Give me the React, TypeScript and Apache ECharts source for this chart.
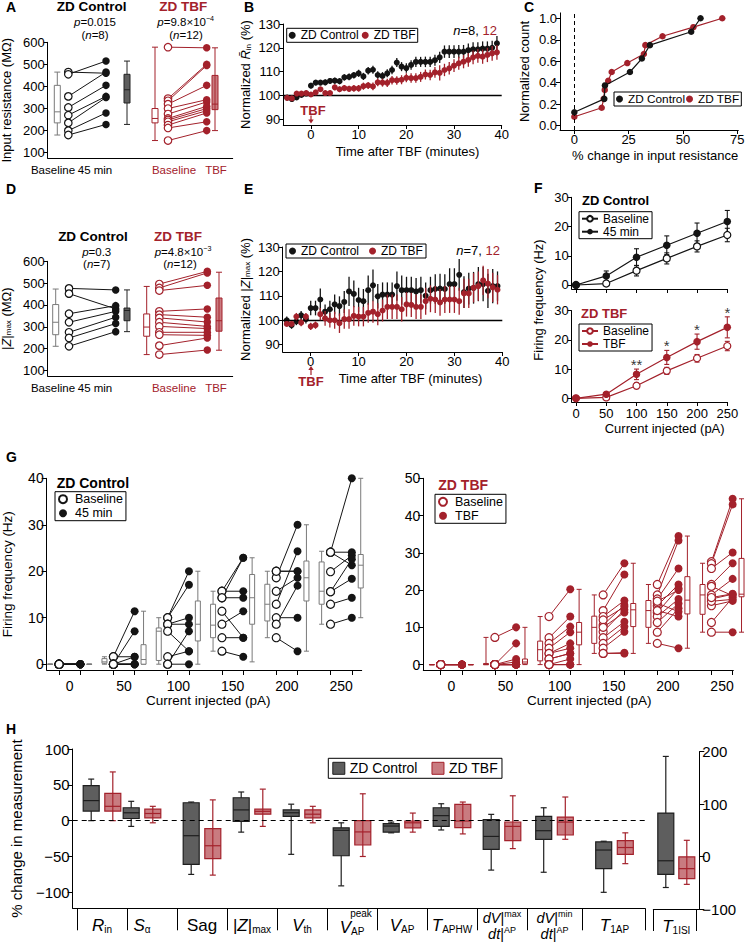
import React, { useEffect, useRef } from "react";
import * as echarts from "echarts";

const RED = "#a3212b";
const RED_FILL = "rgba(168,42,50,0.62)";
const DARK_FILL = "#5e5e5e";
const CTRL = "#141414";
const BOX_GRAY = "#7a7a7a";
const FONT = "'Liberation Sans', Arial, Helvetica, sans-serif";

// ---------- Panel A : input resistance (MΩ) ----------
const A_CTRL_BASE = [465, 455, 355, 305, 270, 235, 200, 180];
const A_CTRL_POST = [460, 515, 465, 405, 355, 350, 280, 228];
const A_TBF_BASE = [578, 345, 335, 320, 300, 275, 255, 248, 240, 225, 212, 155];
const A_TBF_POST = [575, 500, 495, 405, 340, 330, 310, 300, 290, 280, 240, 200];
const A_BOX_CTRL_BASE = [180, 235, 285, 405, 465];
const A_BOX_CTRL_POST = [228, 325, 385, 455, 515];
const A_BOX_TBF_BASE = [155, 235, 255, 300, 578];
const A_BOX_TBF_POST = [200, 295, 320, 450, 575];
const MOHM_TICKS = [100, 200, 300, 400, 500, 600];
const PAIR_LABELS = ["Baseline", "45 min", "Baseline", "TBF"];

// ---------- Panel D : |Z|max (MΩ) ----------
const D_CTRL_BASE = [476, 452, 360, 321, 275, 249, 211];
const D_CTRL_POST = [469, 382, 397, 371, 344, 315, 278];
const D_TBF_BASE = [496, 478, 466, 371, 356, 341, 321, 302, 275, 264, 214, 173];
const D_TBF_POST = [554, 547, 490, 382, 344, 322, 302, 292, 275, 261, 249, 194];
const D_BOX_CTRL_BASE = [211, 264, 321, 402, 473];
const D_BOX_CTRL_POST = [278, 328, 375, 386, 469];
const D_BOX_TBF_BASE = [173, 257, 299, 359, 485];
const D_BOX_TBF_POST = [193, 280, 328, 432, 550];

// ---------- Panels B & E : time courses ----------
const T_MIN = [-5, -4, -3, -2, -1, 0, 1, 2, 3, 4, 5, 6, 7, 8, 9, 10, 11, 12, 13, 14, 15, 16, 17, 18, 19, 20, 21, 22, 23, 24, 25, 26, 27, 28, 29, 30, 31, 32, 33, 34, 35, 36, 37, 38, 39];
const TIME_TICKS = [0, 10, 20, 30, 40];
const NORM_TICKS = [90, 100, 110, 120, 130];
const B_CTRL = [99.1, 98.5, 99.2, 100.2, 100.8, 104.1, 105.4, 105.4, 105.5, 106.1, 106.2, 106, 107.6, 107.8, 108.5, 109.3, 108, 110.4, 110.8, 108.6, 108.2, 109.3, 110.7, 113.8, 112.1, 111.5, 112.8, 114.1, 114.1, 114.1, 114.1, 114.8, 116, 118.4, 118.4, 118.4, 118.4, 118.4, 119, 119.4, 119.4, 119.7, 119.7, 120, 121.9];
const B_CTRL_ERR = [0.6, 0.6, 0.7, 0.7, 0.8, 1.2, 1.1, 1.1, 1.2, 1.2, 1.3, 1.3, 1.3, 1.4, 1.4, 1.5, 1.5, 1.6, 1.7, 1.6, 1.6, 1.7, 1.8, 1.9, 1.9, 2, 2, 2.1, 2.1, 2.2, 2.2, 2.3, 2.4, 2.6, 2.7, 2.7, 2.8, 2.8, 2.8, 2.9, 2.9, 3, 3, 3, 3.1];
const B_TBF = [99, 98.8, 100.8, 100.8, 101, 100.4, 101.3, 102.6, 101, 101, 103.4, 102.6, 103.1, 102.8, 103, 103, 103.9, 104.2, 103.8, 105.5, 105.4, 105.3, 106.4, 106.3, 106.6, 107.4, 107.3, 107.3, 107.8, 108.8, 108.6, 109.7, 109.5, 110.7, 111.4, 112.5, 113.5, 114.2, 114.9, 116, 116.6, 116.3, 117, 117.7, 118.1];
const B_TBF_ERR = [0.6, 0.7, 0.8, 0.8, 0.8, 0.9, 1, 1, 1.1, 1.1, 1.2, 1.2, 1.3, 1.3, 1.4, 1.4, 1.5, 1.5, 1.6, 1.6, 1.7, 1.7, 1.8, 1.8, 1.9, 1.9, 2, 2, 2.1, 2.1, 2.2, 2.3, 3.2, 2.6, 2.6, 2.7, 2.7, 2.8, 2.8, 2.9, 2.9, 3, 3, 3.1, 3.1];
const E_CTRL = [100, 98, 99.5, 102, 100.5, 105, 105, 108.5, 103.5, 104.5, 106.5, 105.8, 107.5, 111.8, 110.8, 108.3, 107.8, 112.3, 114.3, 109.8, 110.5, 110.5, 110.5, 114, 112.3, 112.3, 112.3, 111.8, 112.3, 110, 112.3, 112.8, 113, 112.8, 114.8, 114.8, 118.6, 111.5, 113, 113.3, 114.8, 114.8, 112, 114, 114];
const E_CTRL_ERR = [1.5, 1.5, 1.5, 1.8, 1.8, 3, 3, 4.5, 3, 3.5, 4, 4, 4.5, 6, 5.5, 5, 5, 6, 6.5, 5, 5, 5, 5, 6, 6, 5.5, 5.5, 5.5, 5.5, 5.5, 5.5, 6, 6, 6, 6.5, 6.5, 6.5, 6.5, 6.5, 6.5, 7, 7, 7, 7, 6];
const E_TBF = [98.5, 98.5, 101.5, 99, 101.5, 97.5, 98, 102.5, 100.8, 100, 100, 98.8, 100.5, 100.5, 101.8, 101.5, 101.5, 103, 103.5, 102.5, 104, 105.5, 105.5, 105.5, 104.5, 106.5, 106.3, 105.5, 105.5, 107.8, 108.8, 108.5, 107.3, 108.5, 108.5, 108.5, 107.8, 111, 111, 113.3, 114, 116.3, 115, 113.5, 112.5];
const E_TBF_ERR = [1, 1, 1.5, 1.5, 1.5, 1.5, 1.5, 2.5, 3, 3, 3.5, 4, 4, 4, 4, 4, 4, 4, 4.5, 4.5, 4.5, 5, 5, 5, 5, 5, 5, 5, 5, 5.5, 5.5, 5.5, 5.5, 5.5, 5.5, 5.5, 5.5, 6, 6, 6, 6, 6, 6, 6, 6];

// ---------- Panel C : cumulative distribution ----------
const C_CTRL_X = [0, 13.8, 14.1, 25.6, 31.1, 34.8, 53.8, 58.1];
const C_CTRL_Y = [0.125, 0.25, 0.375, 0.5, 0.625, 0.75, 0.875, 1.0];
const C_TBF_X = [0, 12.6, 13.5, 14, 15.6, 17.2, 24.4, 32, 32.7, 40.6, 54.8, 68.1];
const C_TBF_Y = [0.083, 0.167, 0.25, 0.333, 0.417, 0.5, 0.583, 0.667, 0.75, 0.833, 0.917, 1.0];
const C_X_TICKS = [0, 25, 50, 75];
const C_Y_TICKS = [0, 0.2, 0.4, 0.6, 0.8, 1.0];

// ---------- Panel F : F-I curves (mean ± SEM) ----------
const F_I = [0, 50, 100, 150, 200, 250];
const F_CTRL_BASE = [0, 0.5, 4.9, 9.1, 13.2, 17.1];
const F_CTRL_BASE_ERR = [0, 0.5, 1.8, 1.9, 1.9, 2.3];
const F_CTRL_POST = [0, 3.1, 9.5, 13.6, 17.7, 21.7];
const F_CTRL_POST_ERR = [0, 1.7, 2.9, 3.2, 3.5, 3.8];
const F_TBF_BASE = [0, 0.3, 4.3, 9.4, 13.7, 17.9];
const F_TBF_BASE_ERR = [0, 0.3, 1, 1.2, 1.3, 1.6];
const F_TBF_POST = [0, 1.4, 8.2, 14, 19.4, 24.3];
const F_TBF_POST_ERR = [0, 0.6, 1.8, 2.4, 2.6, 3.6];
const F_SIG = ["", "", "**", "*", "*", "*"];
const F_Y_TICKS = [0, 10, 20, 30];

// ---------- Panel G : individual F-I ----------
const G_CURRENTS = [0, 50, 100, 150, 200, 250];
const G_CTRL_BASE = [
  [0, 0, 0, 0, 0, 0, 0, 0],
  [1.6, 0, 1.6, 0, 0, 0, 0, 0],
  [10, 10, 8.6, 8.6, 7.1, 1.6, 0, 0],
  [15.7, 14.3, 15.7, 14.3, 11.4, 8.6, 5.7, 2.8],
  [20, 18.6, 15.7, 12.9, 10, 8.6, 5.7, 20],
  [24.1, 24.1, 24.1, 19.9, 15.6, 15.6, 12.9, 8.6],
];
const G_CTRL_POST = [
  [0, 0, 0, 0, 0, 0, 0, 0],
  [11.4, 7.1, 1.6, 0, 1.6, 0, 0, 0],
  [20, 17.1, 10, 8.6, 2.8, 2.8, 7.1, 0],
  [22.9, 22.9, 15.7, 14.3, 5.7, 11.4, 5.7, 1.6],
  [20, 30, 18.6, 24.3, 10, 16.9, 2.8, 20],
  [40, 24.1, 21.3, 23.4, 18.4, 22.6, 14.3, 10],
];
const G_CTRL_BOX_BASE = [[0, 0, 0, 0, 0], [0, 0.2, 0.5, 1.2, 1.6], [0, 0.8, 7.1, 7.8, 10], [2.8, 5.7, 8.4, 12.9, 15.7], [5.7, 9.3, 12.9, 17.2, 20], [8.6, 12.9, 15.7, 22, 24.3]];
const G_CTRL_BOX_POST = [[0, 0, 0, 0, 0], [0, 0, 1, 4.2, 11.4], [0, 5, 8.6, 13.6, 20], [0.5, 8.6, 14.3, 19.3, 22.9], [2.8, 13.6, 18.6, 22.2, 30], [10, 16.4, 21.3, 23.6, 40]];
const G_TBF_BASE = [
  [0, 0, 0, 0, 0, 0, 0, 0, 0, 0, 0, 0],
  [7.3, 0, 0, 0, 0, 0, 0, 0, 0, 0, 0, 0],
  [12.9, 7.2, 5.7, 4.4, 3, 3, 1.5, 1.5, 0, 0, 0, 0],
  [18.7, 14.5, 12.9, 10.6, 8.8, 7.2, 5.7, 4.4, 12, 10, 3, 3],
  [21.5, 18.7, 17.6, 15.8, 14, 12.9, 11.3, 8.7, 5.7, 16.5, 14.5, 17],
  [27.6, 27.1, 25.8, 21.5, 18.7, 17.6, 15.8, 11.3, 8.7, 21, 17, 18],
];
const G_TBF_POST = [
  [0, 0, 0, 0, 0, 0, 0, 0, 0, 0, 0, 0],
  [10, 5.7, 1.5, 0.7, 0, 0, 0, 0, 0, 0, 0, 0],
  [20.2, 12.9, 10.2, 8.7, 5.7, 4.4, 3, 3, 1.5, 0, 0, 0],
  [27.2, 24.2, 17.2, 16, 14.7, 11.5, 10.2, 8.8, 15.5, 14, 3.2, 3],
  [34.5, 33.3, 25.8, 21.5, 20.5, 17.6, 16.4, 15.1, 4.4, 14.2, 12.9, 20],
  [44.5, 43, 30.1, 27.2, 23, 18.9, 17.1, 18, 8.7, 18.5, 17.5, 19],
];
const G_TBF_BOX_BASE = [[0, 0, 0, 0, 0], [0, 0, 0, 0.3, 7.3], [0, 1, 4, 6.3, 12.9], [3, 5.7, 10, 13, 18.7], [5.7, 10, 14.5, 17.2, 21.5], [8.7, 13.5, 18.7, 21.5, 27.2]];
const G_TBF_BOX_POST = [[0, 0, 0, 0, 0], [0, 0.2, 0.7, 1.5, 10], [0, 5.3, 8.7, 11.3, 20.2], [3, 10.2, 14.7, 16.4, 27.2], [4.4, 13.6, 17.3, 23.6, 34.5], [8.7, 18.2, 18.9, 28.5, 44.5]];
const G_L_TICKS = [0, 10, 20, 30, 40];
const G_R_TICKS = [0, 10, 20, 30, 40, 50];

// ---------- Panel H : % change per measurement [min, q1, median, q3, max] ----------
const H_LABELS = [
  "{e| }\n{it|R}{sub|in}",
  "{e| }\n{it|S}{sub|α}",
  "{e| }\n{rm|Sag}",
  "{e| }\n{rm||}{it|Z}{rm||}{sub|max}",
  "{e| }\n{it|V}{sub|th}",
  "{pk|peak}\n{it|V}{sub|AP}",
  "{e| }\n{it|V}{sub|AP}",
  "{e| }\n{it|T}{sub|APHW}",
  "{fi|dV}{fr||}{fs|max}\n{fi|dt}{fr||}{fs|AP}",
  "{fi|dV}{fr||}{fs|min}\n{fi|dt}{fr||}{fs|AP}",
  "{e| }\n{it|T}{sub|1AP}",
];
const H_CTRL = [
  [0, 13.4, 28, 49, 58],
  [-8, 3, 11, 18, 27],
  [-75, -61, -21, 25, 26],
  [-16, -1, 15, 32, 40],
  [-47, 6, 11, 15, 23],
  [-91, -49, -13.5, -10, -3],
  [-17, -16, -7.5, -4, -2],
  [-13, -8, 7, 18, 23.6],
  [-69, -40, -22, 1.4, 8.8],
  [-72, -26, -14, 6, 18],
  [-100, -67, -41, -29.6, -28.7],
];
const H_TBF = [
  [0, 13.4, 20, 38, 68],
  [-3, 4, 10, 16, 20],
  [-76, -53, -35, -11, 29],
  [-8, 9, 13, 16, 44],
  [-3, 4, 9, 15, 20],
  [-50, -34, -15.7, 0, 37.5],
  [-16, -10, -3, -0.5, 10.6],
  [-18.5, -9.7, -0.5, 22.7, 26],
  [-39, -28, -8, -1.9, 34.7],
  [-26, -20, -2, 5, 33],
  [-60, -47, -37.5, -28, -17],
];
const H_ISI_LABEL = "{e| }\n{it|T}{sub|1ISI}";
const H_ISI_CTRL = [-59, -34, -8, 83, 191];
const H_ISI_TBF = [-53, -42, -23, -0.6, 31];
const H_L_TICKS = [-100, -50, 0, 50, 100];
const H_R_TICKS = [-100, 0, 100, 200];

// ---------- layout (pixel / slot positions, not data) ----------
const A_X = { b0: 9.6, p0: 20.6, p1: 58.3, b1: 79.3, b2: 107.3, p2: 120.3, p3: 159, b3: 167.3 };
const D_X = { b0: 8, p0: 21.3, p1: 68, b1: 79.3, b2: 99, p2: 111.6, p3: 159.6, b3: 171.3 };
const PAIR_LABEL_X = [53, 95, 174, 216];
const G_OFF = 9.8;
const G_BOX_OFF = 18;
const H_POS = [0, 0.8, 2, 3, 4, 5, 6, 7, 8, 9.05, 10.25];
const H_SEP = [-0.5, 0.5, 1.5, 2.5, 3.5, 4.5, 5.5, 6.5, 7.5, 8.5, 9.6, 10.86];

const fmtNum = (v: number) => String(v).replace("-", "\u2212");

function nearestIdx(arr: number[], v: number) {
  let b = 0;
  arr.forEach((a, i) => {
    if (Math.abs(a - v) < Math.abs(arr[b] - v)) b = i;
  });
  return b;
}

function axis(min: number, max: number, ticks: number[], labels: number[] | null, o: any = {}) {
  const fs = o.fs ?? 13;
  return {
    type: "value",
    min,
    max,
    position: o.position,
    offset: o.offset ?? 0,
    axisLine: { show: o.line ?? true, onZero: false, lineStyle: { color: "#000", width: 1 } },
    axisTick: {
      show: ticks.length > 0,
      length: o.tickLen ?? 4,
      inside: false,
      customValues: ticks,
      lineStyle: { color: "#000", width: 1 },
    },
    axisLabel: {
      show: !!labels,
      customValues: labels ?? [],
      margin: o.margin ?? 3,
      color: "#000",
      fontSize: fs,
      fontFamily: FONT,
      formatter: o.formatter ?? ((v: number) => fmtNum(v)),
      rich: o.rich,
      hideOverlap: false,
      showMinLabel: true,
      showMaxLabel: true,
    },
    splitLine: { show: false },
    name: o.name,
    nameLocation: "middle",
    nameGap: o.nameGap,
    nameTextStyle: { color: "#000", fontSize: o.nfs ?? fs, fontFamily: FONT, rich: o.nrich, padding: o.namePad },
  };
}

function boxSeries(ai: number, rows: number[][], o: any) {
  return {
    type: "custom",
    name: o.name,
    xAxisIndex: ai,
    yAxisIndex: ai,
    silent: true,
    z: o.z ?? 3,
    data: rows,
    renderItem: (_p: any, api: any) => {
      const x = api.value(0);
      const pt = (v: number) => api.coord([x, v]);
      const base = pt(api.value(1));
      const cx = base[0] + (o.dx || 0);
      const yMin = base[1];
      const yQ1 = pt(api.value(2))[1];
      const yMed = pt(api.value(3))[1];
      const yQ3 = pt(api.value(4))[1];
      const yMax = pt(api.value(5))[1];
      const hw = o.w / 2;
      const cap = (o.cap ?? o.w) / 2;
      const lw = o.lw ?? 1;
      const ws = { stroke: o.whisker ?? o.stroke, lineWidth: lw };
      return {
        type: "group",
        children: [
          { type: "line", shape: { x1: cx, y1: yMin, x2: cx, y2: yMax }, style: ws },
          { type: "line", shape: { x1: cx - cap, y1: yMin, x2: cx + cap, y2: yMin }, style: ws },
          { type: "line", shape: { x1: cx - cap, y1: yMax, x2: cx + cap, y2: yMax }, style: ws },
          {
            type: "rect",
            shape: { x: cx - hw, y: yQ3, width: o.w, height: Math.max(yQ1 - yQ3, 0.3) },
            style: { fill: o.fill, stroke: o.stroke, lineWidth: lw },
          },
          { type: "line", shape: { x1: cx - hw, y1: yMed, x2: cx + hw, y2: yMed }, style: { stroke: o.median ?? o.stroke, lineWidth: lw } },
        ],
      };
    },
  };
}

function pairSeries(ai: number, rows: number[][], color: string, lw = 1, z = 2) {
  return {
    type: "custom",
    xAxisIndex: ai,
    yAxisIndex: ai,
    silent: true,
    z,
    data: rows,
    renderItem: (_p: any, api: any) => {
      const a = api.coord([api.value(0), api.value(1)]);
      const b = api.coord([api.value(2), api.value(3)]);
      return { type: "line", shape: { x1: a[0], y1: a[1], x2: b[0], y2: b[1] }, style: { stroke: color, lineWidth: lw } };
    },
  };
}

function errSeries(ai: number, rows: number[][], color: string, lw: number, cap: number, z = 3) {
  return {
    type: "custom",
    xAxisIndex: ai,
    yAxisIndex: ai,
    silent: true,
    z,
    data: rows,
    renderItem: (_p: any, api: any) => {
      const x = api.value(0);
      const y = api.value(1);
      const e = api.value(2);
      const a = api.coord([x, y - e]);
      const b = api.coord([x, y + e]);
      const st = { stroke: color, lineWidth: lw };
      const ch: any[] = [{ type: "line", shape: { x1: a[0], y1: a[1], x2: b[0], y2: b[1] }, style: st }];
      if (cap > 0 && e > 0) {
        ch.push({ type: "line", shape: { x1: a[0] - cap / 2, y1: a[1], x2: a[0] + cap / 2, y2: a[1] }, style: st });
        ch.push({ type: "line", shape: { x1: b[0] - cap / 2, y1: b[1], x2: b[0] + cap / 2, y2: b[1] }, style: st });
      }
      return { type: "group", children: ch };
    },
  };
}

function dotSeries(ai: number, pts: number[][], color: string, size: number, hollow: boolean, name?: string, z = 6) {
  return {
    type: "scatter",
    name,
    xAxisIndex: ai,
    yAxisIndex: ai,
    silent: true,
    z,
    data: pts,
    symbol: "circle",
    symbolSize: size,
    itemStyle: hollow
      ? { color: "#fff", borderColor: color, borderWidth: 1.2, opacity: 1 }
      : { color, borderWidth: 0, opacity: 1 },
  };
}

const legendBase = (o: any) => ({
  selectedMode: false,
  borderColor: "#000",
  borderWidth: 1,
  backgroundColor: "#fff",
  formatter: (n: string) => n.split(":")[1],
  textStyle: { fontSize: o.fs ?? 12, fontFamily: FONT, color: "#000", lineHeight: o.lh ?? 12 },
  ...o,
});

function buildOption() {
  const grid: any[] = [];
  const xAxis: any[] = [];
  const yAxis: any[] = [];
  const series: any[] = [];
  const legend: any[] = [];
  const graphic: any[] = [];

  const add = (g: any, xa: any, ya: any) => {
    const i = grid.length;
    grid.push({ ...g, containLabel: false, outerBoundsMode: "none", show: false });
    xAxis.push({ ...xa, gridIndex: i });
    yAxis.push({ ...ya, gridIndex: i });
    return i;
  };

  const richFor = (fs: number) => ({
    i: { fontStyle: "italic", fontSize: fs, fontFamily: FONT, fill: "#000", color: "#000" },
    s: { fontSize: fs * 0.62, fontFamily: FONT, fill: "#000", color: "#000", verticalAlign: "top", lineHeight: fs * 0.62 },
    b: { fontSize: fs * 0.6, fontFamily: FONT, fill: "#000", color: "#000", verticalAlign: "bottom", lineHeight: fs * 0.6 },
    r: { fontSize: fs, fontFamily: FONT, fill: RED, color: RED },
    n: { fontSize: fs, fontFamily: FONT, fill: "#000", color: "#000" },
  });

  const txt = (x: number, y: number, text: string, o: any = {}) => {
    const fs = o.fs ?? 12;
    graphic.push({
      type: "text",
      x,
      y,
      silent: true,
      z: 100,
      rotation: o.rot ?? 0,
      style: {
        text,
        fill: o.fill ?? "#000",
        fontFamily: FONT,
        fontSize: fs,
        fontWeight: o.bold ? "bold" : "normal",
        fontStyle: o.italic ? "italic" : "normal",
        textAlign: o.align ?? "center",
        textVerticalAlign: o.va ?? "middle",
        align: o.align ?? "center",
        verticalAlign: o.va ?? "middle",
        rich: o.rich ?? richFor(fs),
      },
    });
  };

  // ----- paired panels A and D -----
  const paired = (ai: number, X: any, cb: number[], cp: number[], tb: number[], tp: number[], boxes: number[][]) => {
    series.push(pairSeries(ai, cb.map((v, i) => [X.p0, v, X.p1, cp[i]]), CTRL, 1));
    series.push(pairSeries(ai, tb.map((v, i) => [X.p2, v, X.p3, tp[i]]), RED, 1));
    series.push(boxSeries(ai, [[X.b0, ...boxes[0]]], { w: 6, fill: "#fff", stroke: BOX_GRAY }));
    series.push(boxSeries(ai, [[X.b1, ...boxes[1]]], { w: 6, fill: DARK_FILL, stroke: "#222" }));
    series.push(boxSeries(ai, [[X.b2, ...boxes[2]]], { w: 6, fill: "#fff", stroke: RED }));
    series.push(boxSeries(ai, [[X.b3, ...boxes[3]]], { w: 6, fill: RED_FILL, stroke: RED }));
    series.push(dotSeries(ai, cb.map((v) => [X.p0, v]), CTRL, 7.5, true));
    series.push(dotSeries(ai, cp.map((v) => [X.p1, v]), CTRL, 7.5, false));
    series.push(dotSeries(ai, tb.map((v) => [X.p2, v]), RED, 7.5, true));
    series.push(dotSeries(ai, tp.map((v) => [X.p3, v]), RED, 7.5, false));
  };
  const pairLabels = (y: number) =>
    PAIR_LABELS.forEach((t, k) => txt(PAIR_LABEL_X[k], y, t, { fs: 11.5, fill: k >= 2 ? RED : "#000" }));

  const aI = add(
    { left: 47.7, top: 42.3, width: 185, height: 115.9 },
    axis(0, 185, [], null, {}),
    axis(75, 600, MOHM_TICKS, MOHM_TICKS, { name: "Input resistance (MΩ)", nameGap: 35 })
  );
  paired(aI, A_X, A_CTRL_BASE, A_CTRL_POST, A_TBF_BASE, A_TBF_POST, [A_BOX_CTRL_BASE, A_BOX_CTRL_POST, A_BOX_TBF_BASE, A_BOX_TBF_POST]);
  pairLabels(170);

  const dI = add(
    { left: 47.7, top: 261.3, width: 185, height: 114.7 },
    axis(0, 185, [], null, {}),
    axis(75, 600, MOHM_TICKS, MOHM_TICKS, {
      name: "|{i|Z}|{b|max} (MΩ)",
      nameGap: 35,
      nrich: {
        i: { fontStyle: "italic", fontSize: 13, fontFamily: FONT, color: "#000" },
        b: { fontSize: 8, fontFamily: FONT, color: "#000", verticalAlign: "bottom", lineHeight: 8 },
      },
    })
  );
  paired(dI, D_X, D_CTRL_BASE, D_CTRL_POST, D_TBF_BASE, D_TBF_POST, [D_BOX_CTRL_BASE, D_BOX_CTRL_POST, D_BOX_TBF_BASE, D_BOX_TBF_POST]);
  pairLabels(388);

  // ----- time courses B and E -----
  const normRich = {
    i: { fontStyle: "italic", fontSize: 13, fontFamily: FONT, color: "#000" },
    b: { fontSize: 8, fontFamily: FONT, color: "#000", verticalAlign: "bottom", lineHeight: 8 },
  };
  const hline100 = {
    silent: true,
    symbol: ["none", "none"],
    label: { show: false },
    lineStyle: { color: "#000", width: 1.4, type: "solid" },
    data: [{ yAxis: 100 }],
  };
  const timeCourse = (ai: number, tag: string, c: number[], ce: number[], t: number[], te: number[]) => {
    series.push(errSeries(ai, T_MIN.map((x, i) => [x, c[i], ce[i]]), CTRL, 1.3, 0, 3));
    series.push({ ...dotSeries(ai, T_MIN.map((x, i) => [x, c[i]]), CTRL, 6, false, `${tag}:ZD Control`, 4), markLine: hline100 });
    series.push(errSeries(ai, T_MIN.map((x, i) => [x, t[i], te[i]]), RED, 1.3, 0, 5));
    series.push(dotSeries(ai, T_MIN.map((x, i) => [x, t[i]]), RED, 6, false, `${tag}:ZD TBF`, 6));
  };

  const bI = add(
    { left: 283.3, top: 24, width: 218.4, height: 101 },
    axis(-5.8, 40, TIME_TICKS, TIME_TICKS, { name: "Time after TBF (minutes)", nameGap: 20, namePad: [0, 0, 0, 30] }),
    axis(87.6, 130, NORM_TICKS, NORM_TICKS, { name: "Normalized {i|R\u0304}{b|in} (%)", nameGap: 31, nrich: normRich })
  );
  timeCourse(bI, "B", B_CTRL, B_CTRL_ERR, B_TBF, B_TBF_ERR);
  legend.push(
    legendBase({
      left: 286.7,
      top: 28.3,
      data: ["B:ZD Control", "B:ZD TBF"],
      icon: "circle",
      itemWidth: 7,
      itemHeight: 7,
      itemGap: 3,
      padding: [1, 2, 1, 2],
    })
  );

  const eI = add(
    { left: 282.7, top: 247, width: 219.6, height: 105 },
    axis(-5.85, 40, TIME_TICKS, TIME_TICKS, { name: "Time after TBF (minutes)", nameGap: 20, namePad: [0, 0, 0, 36] }),
    axis(87, 130, NORM_TICKS, NORM_TICKS, { name: "Normalized |{i|Z}|{b|max} (%)", nameGap: 31, nrich: normRich })
  );
  timeCourse(eI, "E", E_CTRL, E_CTRL_ERR, E_TBF, E_TBF_ERR);
  legend.push(
    legendBase({
      left: 286,
      top: 244,
      data: ["E:ZD Control", "E:ZD TBF"],
      icon: "circle",
      itemWidth: 7,
      itemHeight: 7,
      itemGap: 10,
      padding: [1, 3, 1, 3],
    })
  );

  // ----- C cumulative -----
  const cI = add(
    { left: 560, top: 12.9, width: 178.3, height: 117.1 },
    axis(-6.6, 75.5, C_X_TICKS, C_X_TICKS, { name: "% change in input resistance", nameGap: 19, namePad: [0, 0, 0, 12] }),
    axis(-0.04, 1.05, C_Y_TICKS, C_Y_TICKS, { formatter: (v: number) => v.toFixed(1), name: "Normalized count", nameGap: 29 })
  );
  series.push({
    type: "line",
    name: "C:ZD TBF",
    xAxisIndex: cI,
    yAxisIndex: cI,
    silent: true,
    z: 4,
    data: C_TBF_X.map((x, i) => [x, C_TBF_Y[i]]),
    symbol: "circle",
    symbolSize: 6.5,
    showSymbol: true,
    lineStyle: { color: RED, width: 1.2 },
    itemStyle: { color: RED, borderWidth: 0 },
    markLine: {
      silent: true,
      symbol: ["none", "none"],
      label: { show: false },
      lineStyle: { color: "#000", width: 1, type: [4, 3] },
      data: [{ xAxis: 0 }],
    },
  });
  series.push({
    type: "line",
    name: "C:ZD Control",
    xAxisIndex: cI,
    yAxisIndex: cI,
    silent: true,
    z: 5,
    data: C_CTRL_X.map((x, i) => [x, C_CTRL_Y[i]]),
    symbol: "circle",
    symbolSize: 6.5,
    showSymbol: true,
    lineStyle: { color: CTRL, width: 1.2 },
    itemStyle: { color: CTRL, borderWidth: 0 },
  });
  legend.push(
    legendBase({
      left: 614,
      top: 92,
      data: ["C:ZD Control", "C:ZD TBF"],
      icon: "circle",
      itemWidth: 7,
      itemHeight: 7,
      itemGap: 1,
      padding: [1, 2, 1, 2],
      fs: 11.8,
    })
  );

  // ----- F curves -----
  const fCurve = (ai: number, tag: string, color: string, b: number[], be: number[], p: number[], pe: number[], postName: string) => {
    series.push(errSeries(ai, F_I.map((x, i) => [x, b[i], be[i]]), color, 1.1, 5, 3));
    series.push(errSeries(ai, F_I.map((x, i) => [x, p[i], pe[i]]), color, 1.1, 5, 3));
    series.push({
      type: "line",
      name: `${tag}:Baseline`,
      xAxisIndex: ai,
      yAxisIndex: ai,
      silent: true,
      z: 5,
      data: F_I.map((x, i) => [x, b[i]]),
      symbol: "circle",
      symbolSize: 7,
      showSymbol: true,
      lineStyle: { color, width: 1.2 },
      itemStyle: { color: "#fff", borderColor: color, borderWidth: 1.2 },
    });
    series.push({
      type: "line",
      name: `${tag}:${postName}`,
      xAxisIndex: ai,
      yAxisIndex: ai,
      silent: true,
      z: 6,
      data: F_I.map((x, i) => [x, p[i]]),
      symbol: "circle",
      symbolSize: 7.5,
      showSymbol: true,
      lineStyle: { color, width: 1.2 },
      itemStyle: { color, borderWidth: 0 },
    });
  };
  const f1 = add(
    { left: 571.7, top: 197.3, width: 155.9, height: 91.7 },
    axis(-7.1, 250.5, F_I, null, {}),
    axis(-1.37, 30, F_Y_TICKS, F_Y_TICKS, {})
  );
  fCurve(f1, "F1", CTRL, F_CTRL_BASE, F_CTRL_BASE_ERR, F_CTRL_POST, F_CTRL_POST_ERR, "45 min");
  const f2 = add(
    { left: 571.7, top: 310.7, width: 155.9, height: 91.3 },
    axis(-7.1, 250.5, F_I, F_I, { name: "Current injected (pA)", nameGap: 20, margin: 5, namePad: [0, 0, 0, 30] }),
    axis(-1.27, 30, F_Y_TICKS, F_Y_TICKS, {})
  );
  fCurve(f2, "F2", RED, F_TBF_BASE, F_TBF_BASE_ERR, F_TBF_POST, F_TBF_POST_ERR, "TBF");
  series.push({
    type: "scatter",
    xAxisIndex: f2,
    yAxisIndex: f2,
    silent: true,
    z: 7,
    symbolSize: 1,
    itemStyle: { color: "rgba(0,0,0,0)" },
    data: F_I.map((x, i) => ({
      value: [x, F_TBF_POST[i] + F_TBF_POST_ERR[i] + 1.6],
      label: { show: !!F_SIG[i], formatter: F_SIG[i] || " ", position: "inside", fontSize: 15, color: "#000", fontFamily: FONT },
    })),
  });
  const fLegend = (top: number, names: string[]) =>
    legendBase({
      left: 579,
      top,
      orient: "vertical",
      data: names,
      itemWidth: 16,
      itemHeight: 7,
      itemGap: 1,
      padding: [1, 3, 1, 2],
      lh: 11,
    });
  legend.push(fLegend(211.7, ["F1:Baseline", "F1:45 min"]));
  legend.push(fLegend(324, ["F2:Baseline", "F2:TBF"]));

  // ----- G individual F-I -----
  const gTicks = G_CURRENTS.flatMap((c) => [c - G_OFF, c + G_OFF]);
  const gPanel = (ai: number, tag: string, color: string, boxStroke: string, base: number[][], post: number[][], bb: number[][], bp: number[][], postName: string) => {
    const pairs: number[][] = [];
    const bpts: number[][] = [];
    const ppts: number[][] = [];
    G_CURRENTS.forEach((c, k) => {
      base[k].forEach((v, i) => {
        pairs.push([c - G_OFF, v, c + G_OFF, post[k][i]]);
        bpts.push([c - G_OFF, v]);
        ppts.push([c + G_OFF, post[k][i]]);
      });
    });
    series.push(pairSeries(ai, pairs, color, 1));
    series.push(boxSeries(ai, G_CURRENTS.map((c, k) => [c - G_BOX_OFF, ...bb[k]]), { w: 5, fill: "#fff", stroke: boxStroke }));
    series.push(boxSeries(ai, G_CURRENTS.map((c, k) => [c + G_BOX_OFF, ...bp[k]]), { w: 5, fill: "#fff", stroke: boxStroke }));
    series.push(dotSeries(ai, bpts, color, 8, true, `${tag}:Baseline`));
    series.push(dotSeries(ai, ppts, color, 8, false, `${tag}:${postName}`));
  };
  const g1 = add(
    { left: 46.7, top: 478.3, width: 315, height: 191.7 },
    axis(-21.2, 268.9, gTicks, G_CURRENTS, { name: "Current injected (pA)", nameGap: 23, margin: 9, fs: 14, nfs: 13.5, tickLen: 5, namePad: [0, 0, 0, 8] }),
    axis(-1.25, 40, G_L_TICKS, G_L_TICKS, { name: "Firing frequency (Hz)", nameGap: 32, fs: 14, nfs: 13.5, tickLen: 5 })
  );
  gPanel(g1, "G1", CTRL, BOX_GRAY, G_CTRL_BASE, G_CTRL_POST, G_CTRL_BOX_BASE, G_CTRL_BOX_POST, "45 min");
  const g2 = add(
    { left: 423.3, top: 478.3, width: 310, height: 191.7 },
    axis(-25.9, 260.4, gTicks, G_CURRENTS, { name: "Current injected (pA)", nameGap: 23, margin: 9, fs: 14, nfs: 13.5, tickLen: 5, namePad: [0, 0, 0, 22] }),
    axis(-1.45, 50, G_R_TICKS, G_R_TICKS, { fs: 14, tickLen: 5 })
  );
  gPanel(g2, "G2", RED, RED, G_TBF_BASE, G_TBF_POST, G_TBF_BOX_BASE, G_TBF_BOX_POST, "TBF");
  const gLegend = (left: number, top: number, names: string[]) =>
    legendBase({
      left,
      top,
      orient: "vertical",
      data: names,
      icon: "circle",
      itemWidth: 14,
      itemHeight: 8,
      itemGap: 1,
      padding: [1, 3, 1, 3],
      fs: 12.5,
      lh: 12,
    });
  legend.push(gLegend(55, 491.7, ["G1:Baseline", "G1:45 min"]));
  legend.push(gLegend(435, 494.3, ["G2:Baseline", "G2:TBF"]));

  // ----- H summary -----
  const hRich = {
    it: { fontStyle: "italic", fontSize: 17, fontFamily: FONT, color: "#000", lineHeight: 18 },
    rm: { fontSize: 17, fontFamily: FONT, color: "#000", lineHeight: 18 },
    sub: { fontSize: 10, fontFamily: FONT, color: "#000", lineHeight: 10, verticalAlign: "bottom" },
    e: { fontSize: 8, fontFamily: FONT, lineHeight: 7 },
    pk: { fontSize: 10, fontFamily: FONT, color: "#000", lineHeight: 9, padding: [0, 0, 0, 18] },
    fi: { fontStyle: "italic", fontSize: 14.5, fontFamily: FONT, color: "#000", lineHeight: 16.5 },
    fr: { fontSize: 14.5, fontFamily: FONT, color: "#000", lineHeight: 16.5 },
    fs: { fontSize: 9, fontFamily: FONT, color: "#000", lineHeight: 9, verticalAlign: "top" },
  };
  const hI = add(
    { left: 72.7, top: 749, width: 572.3, height: 159.3 },
    axis(-0.586, 10.86, H_SEP, H_POS, {
      tickLen: 22,
      margin: 1,
      formatter: (v: number) => H_LABELS[nearestIdx(H_POS, v)],
      rich: hRich,
    }),
    axis(-122.3, 100, H_L_TICKS, H_L_TICKS, { name: "% change in measurement", nameGap: 49, fs: 15, nfs: 15, tickLen: 5 })
  );
  series.push({
    ...boxSeries(hI, H_POS.map((x, i) => [x, ...H_CTRL[i]]), { w: 16, dx: -10.8, fill: DARK_FILL, stroke: "#1e1e1e", lw: 1.2, cap: 6, name: "H:ZD Control" }),
    markLine: {
      silent: true,
      symbol: ["none", "none"],
      label: { show: false },
      lineStyle: { color: "#000", width: 1.1, type: [5, 4] },
      data: [{ yAxis: 0 }],
    },
  });
  series.push(boxSeries(hI, H_POS.map((x, i) => [x, ...H_TBF[i]]), { w: 16, dx: 10.8, fill: RED_FILL, stroke: RED, lw: 1.2, cap: 6, name: "H:ZD TBF" }));
  const hR = add(
    { left: 653.3, top: 751.7, width: 46, height: 157.3 },
    axis(0, 1, [0, 0.93], [0.5], { tickLen: 22, margin: 1, formatter: () => H_ISI_LABEL, rich: hRich }),
    axis(-100, 200, H_R_TICKS, H_R_TICKS, { position: "right", fs: 15, tickLen: 5 })
  );
  series.push(boxSeries(hR, [[0.5, ...H_ISI_CTRL]], { w: 16, dx: -10.5, fill: DARK_FILL, stroke: "#1e1e1e", lw: 1.2, cap: 6, name: "H:ZD Control" }));
  series.push(boxSeries(hR, [[0.5, ...H_ISI_TBF]], { w: 16, dx: 10.5, fill: RED_FILL, stroke: RED, lw: 1.2, cap: 6, name: "H:ZD TBF" }));
  legend.push(
    legendBase({
      left: 328.3,
      top: 758.3,
      data: [
        { name: "H:ZD Control", icon: "rect", itemStyle: { color: DARK_FILL, borderColor: "#1e1e1e", borderWidth: 1 } },
        { name: "H:ZD TBF", icon: "rect", itemStyle: { color: RED_FILL, borderColor: RED, borderWidth: 1 } },
      ],
      itemWidth: 12,
      itemHeight: 12,
      itemGap: 14,
      padding: [3, 4, 3, 4],
      fs: 14,
      lh: 13,
    })
  );

  // ----- texts -----
  const letters: [string, number, number][] = [
    ["A", 6, 7],
    ["B", 244, 7],
    ["C", 524, 7],
    ["D", 6, 189],
    ["E", 244, 189],
    ["F", 534, 188],
    ["G", 6, 457],
    ["H", 6, 729],
  ];
  letters.forEach(([t, x, y]) => txt(x, y, t, { bold: true, fs: 14, align: "left" }));

  txt(91.7, 6.5, "ZD Control", { bold: true, fs: 13.5 });
  txt(95, 21.8, "{i|p}=0.015", { fs: 11.5 });
  txt(95, 34.6, "({i|n}=8)", { fs: 11.5 });
  txt(183.3, 6.5, "ZD TBF", { bold: true, fs: 13.5, fill: RED });
  txt(185.7, 21.8, "{i|p}=9.8×10{s|\u22124}", { fs: 11.5 });
  txt(186, 34.6, "({i|n}=12)", { fs: 11.5 });

  txt(93, 236, "ZD Control", { bold: true, fs: 13.5 });
  txt(96.7, 251.5, "{i|p}=0.3", { fs: 11.5 });
  txt(96.7, 263.5, "({i|n}=7)", { fs: 11.5 });
  txt(178, 236, "ZD TBF", { bold: true, fs: 13.5, fill: RED });
  txt(183, 251.5, "{i|p}=4.8×10{s|\u22123}", { fs: 11.5 });
  txt(180, 263.5, "({i|n}=12)", { fs: 11.5 });

  txt(497, 30, "{i|n}=8, {r|12}", { align: "right", fs: 13 });
  txt(500, 250, "{i|n}=7, {r|12}", { align: "right", fs: 13 });

  // TBF arrows
  txt(313, 110, "TBF", { bold: true, fs: 13, fill: RED });
  graphic.push({ type: "line", silent: true, z: 100, shape: { x1: 311, y1: 115.5, x2: 311, y2: 121 }, style: { stroke: RED, lineWidth: 1.2 } });
  graphic.push({ type: "polygon", silent: true, z: 100, shape: { points: [[308.3, 119.5], [313.7, 119.5], [311, 123.5]] }, style: { fill: RED } });
  txt(311, 381, "TBF", { bold: true, fs: 13, fill: RED });
  graphic.push({ type: "line", silent: true, z: 100, shape: { x1: 311, y1: 369, x2: 311, y2: 375 }, style: { stroke: RED, lineWidth: 1.2 } });
  graphic.push({ type: "polygon", silent: true, z: 100, shape: { points: [[308.3, 370], [313.7, 370], [311, 366]] }, style: { fill: RED } });

  txt(582, 200, "ZD Control", { bold: true, fs: 13, align: "left" });
  txt(581, 313, "ZD TBF", { bold: true, fs: 13, align: "left", fill: RED });
  txt(538, 300, "Firing frequency (Hz)", { fs: 13, rot: Math.PI / 2 });

  txt(56.7, 482.5, "ZD Control", { bold: true, fs: 14, align: "left" });
  txt(438.3, 484.5, "ZD TBF", { bold: true, fs: 14, align: "left", fill: RED });

  return {
    animation: false,
    backgroundColor: "#fff",
    textStyle: { fontFamily: FONT },
    grid,
    xAxis,
    yAxis,
    legend,
    series,
    graphic: { elements: graphic },
  };
}

export default function App() {
  const ref = useRef<HTMLDivElement>(null);
  useEffect(() => {
    if (!ref.current) return;
    const chart = echarts.init(ref.current, null, { renderer: "svg", width: 747, height: 942 });
    chart.setOption(buildOption() as any);
    return () => chart.dispose();
  }, []);
  return (
    <div
      ref={ref}
      style={{ position: "absolute", left: 0, top: 0, width: 747, height: 942, background: "#fff" }}
    />
  );
}
